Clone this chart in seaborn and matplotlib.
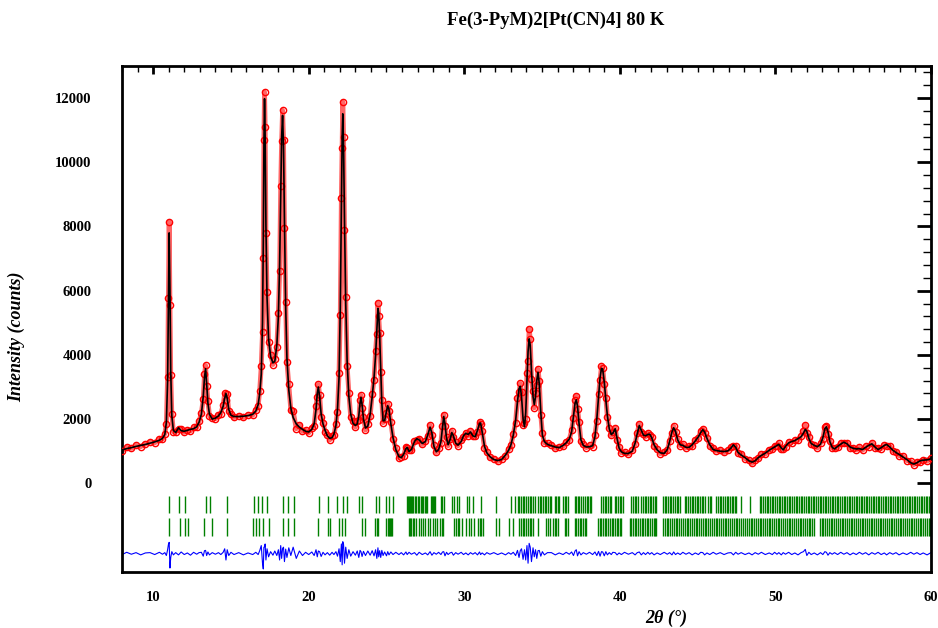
import numpy as np
import matplotlib
matplotlib.use("Agg")
import matplotlib.pyplot as plt
from matplotlib.ticker import FixedLocator, MultipleLocator
import seaborn as sns

# Rietveld plot, Fe(3-PyM)2[Pt(CN)4] at 80 K
# values (2theta in degrees, intensity in counts)

two_theta = [
    8.0, 8.3, 8.6, 8.9, 9.2, 9.5, 9.8, 10.1, 10.4, 10.6, 10.75, 10.85, 10.93, 10.98, 11.03, 11.08, 11.13, 11.2, 11.3,
    11.45, 11.63, 11.8, 12.0, 12.2, 12.4, 12.6, 12.8, 12.95,
    13.1, 13.22, 13.3, 13.37, 13.44, 13.52, 13.62, 13.8, 14.0,
    14.2, 14.35, 14.5, 14.6, 14.68, 14.76, 14.86, 15.0, 15.2, 15.5, 15.8, 16.1, 16.4,
    16.6, 16.75, 16.85, 16.95, 17.03, 17.08, 17.12, 17.16, 17.2, 17.25, 17.32, 17.42, 17.55, 17.7,
    17.82, 17.95, 18.05, 18.13, 18.2, 18.26, 18.32, 18.38, 18.44, 18.52, 18.6, 18.72, 18.85,
    19.0, 19.2, 19.4, 19.6, 19.8, 20.0, 20.2, 20.35, 20.47, 20.55, 20.62, 20.7, 20.8, 20.92, 21.05, 21.2, 21.35, 21.5, 21.62,
    21.75, 21.85, 21.95, 22.03, 22.1, 22.15, 22.19, 22.24, 22.3, 22.38, 22.47, 22.58, 22.7, 22.85, 23.0,
    23.12, 23.22, 23.3, 23.36, 23.43, 23.52, 23.65, 23.8, 23.95, 24.08, 24.2, 24.3, 24.38, 24.45, 24.5,
    24.56, 24.63, 24.7, 24.78, 24.88, 25.0, 25.08, 25.16, 25.28, 25.42,
    25.6, 25.8, 25.95, 26.1, 26.25, 26.33, 26.45, 26.6, 26.8, 26.95, 27.1, 27.3, 27.5, 27.65, 27.8,
    27.92, 28.05, 28.2, 28.35, 28.5, 28.6, 28.68, 28.76, 28.86, 28.96, 29.08, 29.2, 29.3, 29.45,
    29.6, 29.8, 29.95, 30.1, 30.25, 30.4, 30.55, 30.7, 30.85, 30.98, 31.05, 31.15, 31.3, 31.45,
    31.65, 31.9, 32.15, 32.4, 32.65, 32.85, 33.0, 33.15, 33.3, 33.42, 33.52, 33.6, 33.68, 33.78, 33.87,
    33.95, 34.03, 34.1, 34.17, 34.24, 34.32, 34.42, 34.5, 34.58, 34.66, 34.74, 34.82, 34.92, 35.02, 35.15, 35.35,
    35.6, 35.85, 36.1, 36.35, 36.55, 36.75, 36.9, 37.02, 37.12, 37.2, 37.28, 37.38, 37.5, 37.65, 37.85, 38.05,
    38.25, 38.4, 38.52, 38.63, 38.73, 38.82, 38.9, 39.0, 39.1, 39.2, 39.32, 39.45, 39.55, 39.7, 39.82, 39.95,
    40.1, 40.3, 40.55, 40.8, 40.98, 41.12, 41.25, 41.38, 41.52, 41.65, 41.8, 41.92, 42.05, 42.2, 42.4, 42.6, 42.85,
    43.05, 43.2, 43.35, 43.46, 43.58, 43.72, 43.88, 44.05, 44.25, 44.45, 44.65, 44.85, 45.05, 45.2, 45.33,
    45.45, 45.6, 45.78, 46.0, 46.2, 46.45, 46.7, 46.95,
    47.15, 47.3, 47.45, 47.6, 47.8, 48.05, 48.3, 48.5, 48.7, 48.9, 49.1, 49.35, 49.6, 49.8, 49.95, 50.1, 50.22,
    50.38, 50.5, 50.65, 50.85, 51.05, 51.25, 51.45, 51.65, 51.8, 51.92, 52.02, 52.15, 52.3, 52.5, 52.7, 52.9,
    53.05, 53.18, 53.28, 53.38, 53.5, 53.65, 53.8,
    54.0, 54.2, 54.4, 54.6, 54.8, 55.0, 55.2, 55.4, 55.6, 55.8, 56.0, 56.2, 56.4, 56.6, 56.8, 57.0, 57.15,
    57.35, 57.55, 57.75, 57.95, 58.2, 58.45, 58.7, 58.9, 59.1, 59.3, 59.5, 59.75, 60.0,
]

y_calc = [
    1040, 1080, 1110, 1150, 1180, 1210, 1250, 1290, 1340, 1400, 1520, 1900, 3200, 5500, 7800, 6000, 3500, 2100, 1650,
    1580, 1730, 1640, 1620, 1650, 1680, 1700, 1760, 1900,
    2150, 2700, 3300, 3570, 3100, 2500, 2150, 2000, 2030,
    2100, 2200, 2400, 2650, 2800, 2650, 2300, 2120, 2080, 2080, 2090, 2110, 2150,
    2250, 2450, 2800, 3400, 5000, 7500, 10500, 11980, 10800, 8000, 5800, 4500, 3950, 3750,
    3800, 4300, 5200, 6800, 9000, 10800, 11460, 10500, 8200, 5500, 3900, 2900, 2350,
    2050, 1850, 1750, 1680, 1620, 1600, 1680, 1850, 2300, 2800, 3000, 2700, 2150, 1850, 1650, 1480, 1400, 1420, 1530,
    1800, 2300, 3300, 5500, 8600, 10800, 11510, 10500, 8200, 5600, 3800, 2700, 2150, 1870, 1800,
    1850, 2100, 2500, 2680, 2450, 2000, 1720, 1780, 2150, 2700, 3300, 4000, 4800, 5450, 5300,
    4600, 3600, 2500, 1950, 1950, 2250, 2420, 2300, 1850, 1420,
    1050, 830, 800, 900, 1080, 1120, 990, 1050, 1300, 1390, 1350, 1240, 1300, 1500, 1750,
    1560, 1150, 980, 1050, 1300, 1750, 2080, 1850, 1400, 1200, 1350, 1580, 1480, 1250,
    1190, 1300, 1480, 1560, 1520, 1600, 1480, 1450, 1650, 1870, 1880, 1600, 1150, 950,
    830, 740, 710, 740, 880, 1030, 1200, 1500, 1950, 2550, 2950, 3020, 2700, 2000, 1760,
    2200, 3200, 4100, 4500, 4300, 3500, 2700, 2450, 2700, 3200, 3460, 3100, 2200, 1500, 1300, 1210,
    1170, 1130, 1110, 1180, 1260, 1380, 1600, 2100, 2500, 2600, 2400, 1850, 1350, 1180, 1130, 1140,
    1170, 1450, 2000, 2700, 3300, 3580, 3550, 3150, 2600, 2100, 1700, 1520, 1560, 1700, 1400, 1100,
    980, 930, 930, 1000, 1250, 1550, 1800, 1650, 1500, 1480, 1520, 1530, 1420, 1200, 1040, 950, 930,
    1050, 1300, 1600, 1730, 1620, 1350, 1200, 1180, 1120, 1120, 1200, 1320, 1450, 1580, 1670,
    1600, 1400, 1200, 1050, 1020, 1000, 990, 1010,
    1100, 1200, 1120, 960, 880, 800, 700, 660, 700, 800, 870, 940, 1030, 1090, 1130, 1180, 1210,
    1100, 1040, 1150, 1260, 1300, 1330, 1390, 1450, 1560, 1680, 1620, 1400, 1240, 1180, 1140, 1220,
    1420, 1700, 1760, 1600, 1300, 1120, 1070,
    1150, 1220, 1280, 1230, 1130, 1090, 1070, 1080, 1050, 1120, 1180, 1230, 1130, 1050, 1110, 1180, 1210,
    1130, 1030, 960, 900, 820, 740, 640, 600, 640, 700, 720, 730, 760,
]

# observed minus calculated
y_diff = [
    -30, 40, -20, 30, -40, 20, 30, -30, 40, -20, 30, -60, 120, 280, 350, -450, -120, 60, -40,
    30, -40, 50, -30, 20, -50, 40, -20, 30,
    40, -80, 90, 100, -60, 50, -40, 30, -20,
    30, -30, 40, 150, -200, 120, -60, 40, -30, 30, -40, 20, -30,
    40, -30, 90, 250, -300, -480, 200, 210, 300, -200, 150, -100, 60, -50,
    80, -60, 120, -200, 250, -150, 160, 200, -250, 140, -120, 180, -60,
    200, -150, 80, -60, 40, -30, 50, -60, 120, -100, 80, 60, -90, 40, -40, 30, -50, 40, -30,
    60, -80, 150, -250, 300, -350, 370, 280, -300, 200, -150, 120, -80, 60, -50,
    80, -120, 100, 60, -90, 70, -60, 80, -50, 90, -70, 120, -150, 180, -100,
    90, -120, 100, -60, 50, -70, 60, -40, 50, -30,
    40, -30, 30, -40, 50, -30, 40, -20, 30, -50, 40, -30, 20, -40, 60,
    -50, 30, -20, 40, -30, 50, 60, -70, 40, -30, 20, 40, -50, 30,
    -20, 40, -30, 20, -40, 30, -20, 30, -40, 50, -30, 20, -40, 30,
    -20, 30, -30, 20, -40, 30, -20, 40, -60, 100, -120, 90, 150, -180, 120,
    -200, 250, -300, 320, 200, -250, 180, -100, 120, -150, 90, 100, -80, 60, -40, 30,
    30, -40, 20, -30, 40, -20, 50, -60, 80, 120, -70, 60, -40, 30, -20, 40,
    -30, 50, -60, 70, -80, 60, 50, -70, 60, -40, 30, -30, 40, 30, -40, 20,
    -30, 40, -20, 30, -40, 30, 50, -40, 30, -30, 40, -20, 30, -40, 20, -30, 40,
    -20, 30, -40, 50, -30, 20, -30, 40, -20, 30, -40, 20, -30, 40, 30,
    -40, 20, -30, 40, -20, 30, -30, 20,
    30, -40, 40, -20, 30, -30, 20, -40, 30, -20, 40, -30, 20, -30, 40, -20, 30,
    -40, 30, -20, 40, -30, 20, -40, 30, 60, 130, -60, 40, -30, 20, -40, 30,
    -30, 60, 40, -50, 30, -20, 30,
    -30, 40, -20, 30, -40, 20, -30, 40, -20, 30, -40, 30, -20, 40, -30, 20, -40,
    30, -20, 30, -40, 20, -30, 40, -20, 30, -30, 20, -40, 30,
]

# Bragg reflection positions, phase 1 (upper row) and phase 2 (lower row)
bragg_1 = [
    11.03, 11.63, 12.06, 13.39, 13.65, 14.72, 16.50, 16.71, 16.99, 17.32, 18.32, 18.64, 19.07, 20.64,
    21.22, 21.80, 22.23, 22.44, 23.21, 23.43, 24.33, 24.50, 24.97, 25.14, 25.44, 26.30, 26.36, 26.43,
    26.50, 26.58, 26.65, 26.73, 26.82, 26.90, 27.0, 27.11, 27.2, 27.28, 27.37, 27.45, 27.54, 27.62,
    27.87, 27.95, 28.02, 28.08, 28.15, 28.51, 28.6, 28.72, 29.22, 29.37, 29.51, 29.69, 30.16, 30.29,
    30.55, 31.09, 32.05, 33.02, 33.23, 33.44,
    33.55, 33.66, 33.78, 33.87, 33.98, 34.08, 34.2, 34.31, 34.42, 34.52,
    34.73, 34.85, 34.94, 35.05, 35.16, 35.27, 35.38, 35.49, 35.59, 35.8, 35.92, 36.03, 36.12,
    36.34, 36.45, 36.57, 36.66, 37.09, 37.2, 37.31, 37.4, 37.52, 37.63, 37.74, 37.86, 37.95, 38.06, 38.16,
    38.81, 38.92, 39.03, 39.14, 39.25, 39.36, 39.45, 39.66, 39.77, 39.88, 39.99, 40.1, 40.2,
    40.74, 40.86, 40.97, 41.07, 41.16, 41.38, 41.49, 41.6, 41.71, 41.82, 41.93, 42.03, 42.14, 42.25, 42.34,
    42.77, 42.88, 42.99, 43.1, 43.21, 43.32, 43.43, 43.54, 43.65, 43.76, 43.85,
    44.17, 44.28, 44.39, 44.5, 44.61, 44.72, 44.83, 44.94, 45.05, 45.16, 45.27, 45.37, 45.45,
    45.67, 45.78, 45.88, 46.2, 46.31, 46.42, 46.53, 46.64, 46.75, 46.86, 46.97, 47.08, 47.19, 47.3, 47.4, 47.49,
    47.81, 48.35,
    48.99, 49.1, 49.21, 49.32, 49.43, 49.54, 49.65, 49.76, 49.87, 49.98, 50.09, 50.2, 50.31, 50.42,
    50.53, 50.64, 50.75, 50.86, 50.97, 51.08, 51.19, 51.3, 51.41, 51.52, 51.63, 51.74, 51.85, 51.96,
    52.07, 52.18, 52.29, 52.4, 52.51, 52.62, 52.73, 52.84, 52.95, 53.06, 53.17, 53.28, 53.39, 53.5,
    53.61, 53.72, 53.83, 53.94, 54.05, 54.16, 54.27, 54.38, 54.49, 54.6, 54.71, 54.82, 54.93, 55.04,
    55.15, 55.26, 55.37, 55.48, 55.59, 55.7, 55.81, 55.92, 56.03, 56.14, 56.25, 56.36, 56.47, 56.58,
    56.69, 56.8, 56.91, 57.02, 57.13, 57.24, 57.35, 57.46, 57.57, 57.68, 57.79, 57.9, 58.01, 58.12,
    58.23, 58.34, 58.45, 58.56, 58.67, 58.78, 58.89, 59.0, 59.11, 59.22, 59.33, 59.44, 59.55, 59.66,
    59.77, 59.88,
]

bragg_2 = [
    11.03, 11.74, 12.06, 12.21, 13.28, 13.78, 14.72, 16.39, 16.61, 16.82, 17.03, 17.42, 18.36, 18.64,
    19.07, 20.57, 21.22, 21.37, 21.92, 22.14, 22.35, 23.43, 23.64, 24.29, 24.36, 24.44, 24.97, 25.08,
    25.15, 25.23, 25.3, 25.36, 26.43, 26.52, 26.6, 26.69, 26.78, 26.90, 27.07, 27.2, 27.33, 27.5,
    27.65, 27.80, 27.97, 28.1, 28.25, 28.45, 28.58, 28.66, 29.37, 29.47, 29.58, 29.65, 29.86, 30.12,
    30.3, 30.44, 30.6, 30.87, 31.02, 31.1, 31.19, 32.05, 32.26, 32.90, 33.11, 33.54,
    33.65, 33.76, 33.87, 33.98, 34.09, 34.2, 34.31, 34.41, 34.73, 35.27, 35.38, 35.48,
    35.7, 35.81, 35.92, 36.02, 36.45, 36.56, 36.66, 37.09, 37.2, 37.31, 37.42, 37.53, 37.64, 37.75, 37.84,
    38.59, 38.7, 38.81, 38.92, 39.03, 39.14, 39.25, 39.36, 39.47, 39.58, 39.69, 39.8, 39.91, 40.0, 40.09,
    40.63, 40.74, 40.85, 40.96, 41.07, 41.18, 41.29, 41.4, 41.51, 41.62, 41.73, 41.84, 41.95, 42.06,
    42.17, 42.27, 42.34,
    42.77, 42.89, 43.0, 43.12, 43.24, 43.35, 43.47, 43.59, 43.7, 43.82, 43.94, 44.05, 44.17, 44.29,
    44.4, 44.52, 44.64, 44.75, 44.87, 44.99, 45.1, 45.22, 45.34, 45.45, 45.57, 45.69, 45.8, 45.92,
    46.04, 46.15, 46.27, 46.39, 46.5, 46.62, 46.74, 46.85, 46.97, 47.09, 47.2, 47.32, 47.44, 47.55, 47.67,
    47.81, 47.93, 48.05, 48.16, 48.28, 48.4, 48.51, 48.63, 48.75, 48.86, 48.98, 49.1, 49.21, 49.33,
    49.45, 49.56, 49.68, 49.8, 49.91, 50.03, 50.15, 50.26, 50.38, 50.5, 50.61, 50.73, 50.85, 50.96,
    51.08, 51.2, 51.31, 51.43, 51.55, 51.66, 51.78, 51.9, 52.01, 52.13, 52.25, 52.36, 52.48,
    52.85, 52.97, 53.09, 53.2, 53.32, 53.44, 53.55, 53.67, 53.79, 53.9, 54.02, 54.14, 54.25, 54.37,
    54.49, 54.6, 54.72, 54.84, 54.95, 55.07, 55.19, 55.3, 55.42, 55.54, 55.65, 55.77, 55.89, 56.0,
    56.12, 56.24, 56.35, 56.47, 56.59, 56.7, 56.82, 56.94, 57.05, 57.17, 57.29, 57.4, 57.52, 57.64,
    57.75, 57.87, 57.99, 58.1, 58.22, 58.34, 58.45, 58.57, 58.69, 58.8, 58.92, 59.04, 59.15, 59.27,
    59.39, 59.5, 59.62, 59.74, 59.85, 59.94,
]

y_ticks = [0, 2000, 4000, 6000, 8000, 10000, 12000]

assert len(two_theta) == len(y_calc) == len(y_diff)

tth = np.array(two_theta)
calc = np.array(y_calc)
obs = calc + np.array(y_diff)

DIFF_OFFSET = -2190
ROW1 = (-935, -405)
ROW2 = (-1650, -1090)

sns.set_style("white")
plt.rcParams["font.family"] = ["Liberation Serif", "DejaVu Serif"]
plt.rcParams["font.weight"] = "bold"
for key in ("text.color", "axes.labelcolor", "xtick.color", "ytick.color", "axes.edgecolor"):
    plt.rcParams[key] = "black"

fig = plt.figure(figsize=(9.38, 6.28), dpi=100)
ax = fig.add_axes([0.1301, 0.0892, 0.8624, 0.8057])

# observed points (open red circles over a red band)
ax.plot(tth, obs, color="red", lw=3.5, alpha=0.6, zorder=2)
ax.plot(tth, obs, "o", mfc="none", mec="red", ms=4.5, mew=1.0, zorder=3)

# calculated profile
sns.lineplot(x=tth, y=calc, color="black", lw=1.2, estimator=None, sort=False, ax=ax, zorder=4)

# Bragg positions
ax.vlines(bragg_1, ROW1[0], ROW1[1], color="green", lw=1.0)
ax.vlines(bragg_2, ROW2[0], ROW2[1], color="green", lw=1.0)

# difference curve
sns.lineplot(x=tth, y=np.array(y_diff) + DIFF_OFFSET, color="blue", lw=0.8,
             estimator=None, sort=False, ax=ax)

ax.set_xlim(8, 60)
ax.set_ylim(-2763, 13000)

ax.xaxis.set_major_locator(MultipleLocator(10))
ax.xaxis.set_minor_locator(MultipleLocator(1))
ax.yaxis.set_major_locator(FixedLocator(y_ticks))
ax.yaxis.set_minor_locator(FixedLocator(list(range(0, 12801, 400))))

ax.tick_params(axis="both", which="both", direction="in", top=True, right=True,
               labelsize=10.5, color="black", labelcolor="black")
ax.tick_params(axis="y", which="major", length=10, width=2, pad=22)
ax.tick_params(axis="y", which="minor", length=6, width=1)
ax.tick_params(axis="x", which="major", length=6, width=2, pad=14)
ax.tick_params(axis="x", which="minor", length=4, width=1)
for lab in ax.get_xticklabels() + ax.get_yticklabels():
    lab.set_fontweight("bold")

for sp in ax.spines.values():
    sp.set_linewidth(2)
    sp.set_color("black")

ax.set_xlabel("")
ax.set_ylabel("")

fig.text(556 / 938, 1 - 20 / 628, "Fe(3-PyM)2[Pt(CN)4] 80 K", ha="center", va="center",
         fontsize=13.5, fontweight="bold", color="black")
fig.text(666 / 938, 1 - 618 / 628, "2θ (°)", ha="center", va="center",
         fontsize=13, fontweight="bold", style="italic", color="black")
fig.text(17 / 938, 1 - 337 / 628, "Intensity (counts)", ha="center", va="center",
         rotation=90, fontsize=13, fontweight="bold", style="italic", color="black")

fig.savefig("out.png", dpi=100)
